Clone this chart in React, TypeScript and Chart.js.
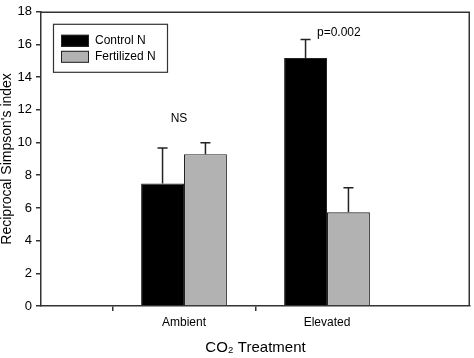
import React, { useEffect, useRef } from "react";
import { Chart, registerables } from "chart.js";

Chart.register(...registerables);

const categories = ["Ambient", "Elevated"];
const seriesNames = ["Control N", "Fertilized N"];
const controlN = [7.49, 15.17];
const fertilizedN = [9.29, 5.74];
const controlErr = [2.18, 1.13];
const fertilizedErr = [0.7, 1.5];
const yTicksMax = 18;
const yTicksStep = 2;
const annotations = [
  { text: "NS", cat: 0, y: 11.48, align: "center" as CanvasTextAlign, dx: -5 },
  { text: "p=0.002", cat: 1, y: 16.7, align: "left" as CanvasTextAlign, dx: -10 },
];

const FONT = 'Arial, "Liberation Sans", sans-serif';
const BLACK = "#000000";
const GRAY = "#b2b2b2";
const LINE = "#333333";

export default function App() {
  const ref = useRef<HTMLCanvasElement | null>(null);

  useEffect(() => {
    document.body.style.margin = "0";
    const canvas = ref.current;
    if (!canvas) return;
    const labels = ["", ...categories, ""];
    const pad = (a: number[]) => [null, ...a, null];
    const errs = [pad(controlErr), pad(fertilizedErr)];

    const framePlugin = {
      id: "frame",
      afterDatasetsDraw(chart: any) {
        const { ctx, chartArea } = chart;
        // error bars
        chart.data.datasets.forEach((ds: any, di: number) => {
          const meta = chart.getDatasetMeta(di);
          const yScale = chart.scales.y;
          meta.data.forEach((el: any, i: number) => {
            const v = ds.data[i];
            const e = errs[di][i];
            if (v == null || e == null) return;
            const yTop = yScale.getPixelForValue(v + e);
            const yBar = yScale.getPixelForValue(v);
            ctx.save();
            ctx.strokeStyle = "#222";
            ctx.lineWidth = 1.5;
            ctx.beginPath();
            ctx.moveTo(el.x, yBar);
            ctx.lineTo(el.x, yTop);
            ctx.moveTo(el.x - 5, yTop);
            ctx.lineTo(el.x + 5, yTop);
            ctx.stroke();
            ctx.restore();
          });
        });
        // top and right frame
        ctx.save();
        ctx.strokeStyle = LINE;
        ctx.lineWidth = 1.5;
        ctx.beginPath();
        ctx.moveTo(chartArea.left, chartArea.top + 0.5);
        ctx.lineTo(chartArea.right - 0.75, chartArea.top + 0.5);
        ctx.lineTo(chartArea.right - 0.75, chartArea.bottom);
        ctx.stroke();
        ctx.restore();
        // annotations
        const xs = chart.scales.x;
        const ys = chart.scales.y;
        ctx.save();
        ctx.fillStyle = "#000";
        ctx.font = `12px ${FONT}`;
        ctx.textBaseline = "middle";
        annotations.forEach((a) => {
          ctx.textAlign = a.align;
          ctx.fillText(a.text, xs.getPixelForValue(a.cat + 1) + a.dx, ys.getPixelForValue(a.y));
        });
        ctx.restore();
        // legend
        const bx = chartArea.left + 12;
        const by = chartArea.top + 12;
        const bw = 114;
        const bh = 48;
        ctx.save();
        ctx.fillStyle = "#fff";
        ctx.fillRect(bx, by, bw, bh);
        ctx.strokeStyle = LINE;
        ctx.lineWidth = 1.2;
        ctx.strokeRect(bx + 0.5, by + 0.5, bw, bh);
        const colors = [BLACK, GRAY];
        seriesNames.forEach((name, i) => {
          const sy = by + 11 + i * 16;
          ctx.fillStyle = colors[i];
          ctx.fillRect(bx + 8, sy, 28, 12);
          ctx.strokeStyle = "#222";
          ctx.lineWidth = 1;
          ctx.strokeRect(bx + 8.5, sy + 0.5, 27, 11);
          ctx.fillStyle = "#000";
          ctx.font = `12px ${FONT}`;
          ctx.textAlign = "left";
          ctx.textBaseline = "middle";
          ctx.fillText(name, bx + 42, sy + 6);
        });
        ctx.restore();
      },
    };

    const chart = new Chart(canvas, {
      type: "bar",
      data: {
        labels,
        datasets: [
          {
            label: seriesNames[0],
            data: pad(controlN) as any,
            backgroundColor: BLACK,
            borderColor: "#222",
            borderWidth: 1,
            categoryPercentage: 0.6,
            barPercentage: 1,
          },
          {
            label: seriesNames[1],
            data: pad(fertilizedN) as any,
            backgroundColor: GRAY,
            borderColor: "#222",
            borderWidth: 1.2,
            categoryPercentage: 0.6,
            barPercentage: 1,
          },
        ],
      },
      options: {
        animation: false,
        responsive: false,
        devicePixelRatio: 1,
        layout: { padding: { top: 5, right: 1, left: 0, bottom: 0 } },
        plugins: { legend: { display: false }, tooltip: { enabled: false } },
        scales: {
          x: {
            type: "category",
            offset: false,
            afterFit: (s: any) => {
              s.height = 52;
            },
            grid: {
              drawOnChartArea: false,
              drawTicks: true,
              tickLength: 5,
              lineWidth: 1.5,
              color: (c: any) => (c.index === 1 || c.index === 2 ? LINE : "rgba(0,0,0,0)"),
            },
            border: { display: true, color: LINE, width: 1.5 },
            ticks: {
              color: "#000",
              font: { family: FONT, size: 12 },
              padding: 4,
              maxRotation: 0,
              autoSkip: false,
            },
            title: {
              display: true,
              text: "CO₂ Treatment",
              color: "#000",
              font: { family: FONT, size: 15 },
              padding: { top: 0, bottom: 1 },
            },
          },
          y: {
            min: 0,
            max: yTicksMax,
            afterFit: (s: any) => {
              s.width = 41;
            },
            grid: {
              drawOnChartArea: false,
              drawTicks: true,
              tickLength: 5,
              lineWidth: 1.5,
              color: LINE,
            },
            border: { display: true, color: LINE, width: 1.5 },
            ticks: {
              stepSize: yTicksStep,
              color: "#000",
              font: { family: FONT, size: 13 },
              padding: 4,
            },
            title: {
              display: true,
              text: "Reciprocal Simpson's index",
              color: "#000",
              font: { family: FONT, size: 14, lineHeight: 1 },
              padding: 0,
            },
          },
        },
      },
      plugins: [framePlugin],
    });
    return () => chart.destroy();
  }, []);

  return (
    <div style={{ width: 474, height: 358 }}>
      <canvas ref={ref} width={474} height={358} />
    </div>
  );
}
